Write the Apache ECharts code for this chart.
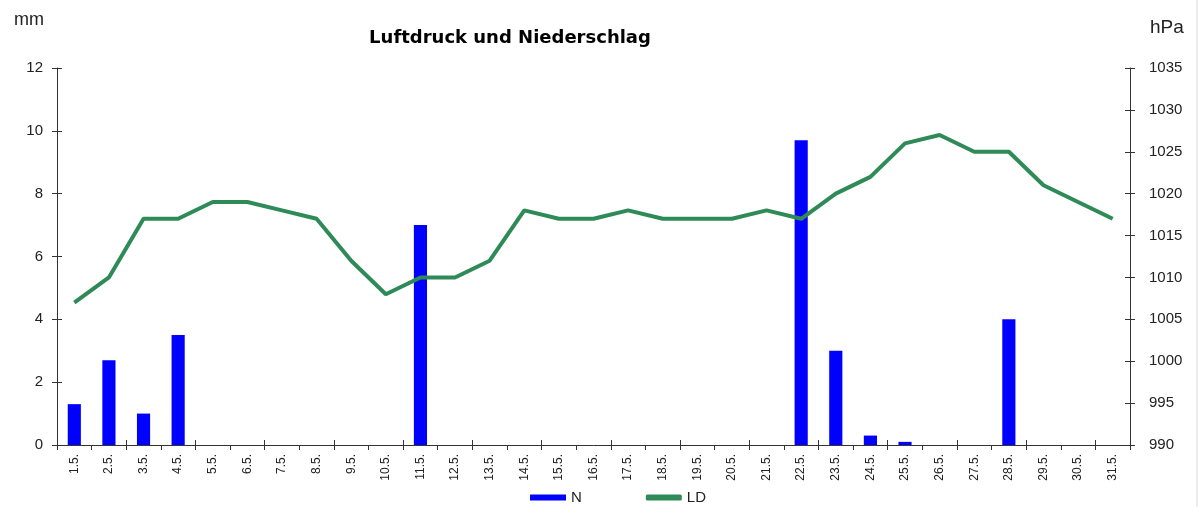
<!DOCTYPE html>
<html>
<head>
<meta charset="utf-8">
<script src="https://cdn.jsdelivr.net/npm/echarts@6/dist/echarts.min.js"></script>
<style>
    html, body { margin: 0; padding: 0; background: #fff; }
    #main { width: 1198px; height: 507px; }
</style>
</head>
<body>
<div id="main"></div>
<script>
// Tage im Mai
let tage = []
for (let i = 1; i <= 31; i++) {
    tage.push(i + '.5.')
}
// Niederschlag (mm)
let niederschlag = [1.3, 2.7, 1.0, 3.5, 0, 0, 0, 0, 0, 0, 7.0, 0, 0, 0, 0, 0, 0, 0, 0, 0, 0, 9.7, 3.0, 0.3, 0.1, 0, 0, 4.0, 0, 0, 0]
// Luftdruck (hPa)
let luftdruck = [1007, 1010, 1017, 1017, 1019, 1019, 1018, 1017, 1012, 1008, 1010, 1010, 1012, 1018, 1017, 1017, 1018, 1017, 1017, 1017, 1018, 1017, 1020, 1022, 1026, 1027, 1025, 1025, 1021, 1019, 1017]

let font = 'Liberation Sans, Arial, sans-serif'
let axisColor = '#333'
let myChart = echarts.init(document.getElementById('main'))

// zweite Achse nur für die nach innen zeigenden Striche (Kreuzstriche wie in Excel)
function innerTicks(base) {
    return Object.assign({}, base, {
        name: '',
        axisLabel: { show: false },
        axisLine: { show: false },
        axisTick: { show: true, inside: true, length: 5, lineStyle: { color: axisColor } }
    })
}

let mmAxis = {
    type: 'value',
    position: 'left',
    min: 0,
    max: 12,
    interval: 2,
    splitLine: { show: false },
    axisLine: { show: true, lineStyle: { color: axisColor } },
    axisTick: { show: true, length: 5, lineStyle: { color: axisColor } },
    axisLabel: { fontSize: 15, color: '#222', margin: 14 }
}
let hpaAxis = {
    type: 'value',
    position: 'right',
    min: 990,
    max: 1035,
    interval: 5,
    splitLine: { show: false },
    axisLine: { show: true, lineStyle: { color: axisColor } },
    axisTick: { show: true, length: 5, lineStyle: { color: axisColor } },
    axisLabel: { fontSize: 15, color: '#222', margin: 19, formatter: function (v) { return String(v) } }
}
let tagAxis = {
    type: 'category',
    position: 'bottom',
    data: tage,
    axisLine: { lineStyle: { color: axisColor, width: 1 } },
    axisTick: { show: true, length: 5, lineStyle: { color: axisColor } },
    axisLabel: { rotate: 90, fontSize: 12, color: '#222', margin: 9 }
}

let option = {
    backgroundColor: '#fff',
    animation: false,
    textStyle: { fontFamily: font },
    title: {
        text: 'Luftdruck und Niederschlag',
        left: 505,
        top: 24,
        textAlign: 'center',
        textStyle: { fontSize: 18, fontWeight: 'bold', color: '#000', fontFamily: 'DejaVu Sans, sans-serif' }
    },
    legend: {
        bottom: -3,
        left: 525,
        itemGap: 64,
        itemWidth: 36,
        itemHeight: 6,
        textStyle: { fontSize: 15, color: '#222', fontFamily: font },
        data: [
            { name: 'N', icon: 'rect' },
            { name: 'LD', icon: 'roundRect' }
        ]
    },
    grid: { left: 57, right: 68, top: 68, bottom: 62 },
    graphic: [
        {
            type: 'line',
            shape: { x1: 1197, y1: 0, x2: 1197, y2: 507 },
            style: { stroke: '#d9d9d9', lineWidth: 1 }
        }
    ],
    xAxis: [tagAxis, innerTicks(tagAxis)],
    yAxis: [
        Object.assign({}, mmAxis, {
            name: 'mm',
            nameLocation: 'end',
            nameGap: 39,
            nameTextStyle: { fontSize: 18, color: '#222', align: 'right', padding: [0, 13, 0, 0] }
        }),
        Object.assign({}, hpaAxis, {
            name: 'hPa',
            nameLocation: 'end',
            nameGap: 31,
            nameTextStyle: { fontSize: 19, color: '#222', align: 'left', padding: [0, 0, 0, 20] }
        }),
        innerTicks(mmAxis),
        innerTicks(hpaAxis)
    ],
    series: [
        {
            name: 'N',
            type: 'bar',
            data: niederschlag,
            yAxisIndex: 0,
            barWidth: '38%',
            itemStyle: { color: '#0000ff' }
        },
        {
            name: 'LD',
            type: 'line',
            data: luftdruck,
            yAxisIndex: 1,
            symbol: 'none',
            lineStyle: { color: '#2e8b57', width: 4 },
            itemStyle: { color: '#2e8b57' }
        }
    ]
}
myChart.setOption(option)
</script>
</body>
</html>
